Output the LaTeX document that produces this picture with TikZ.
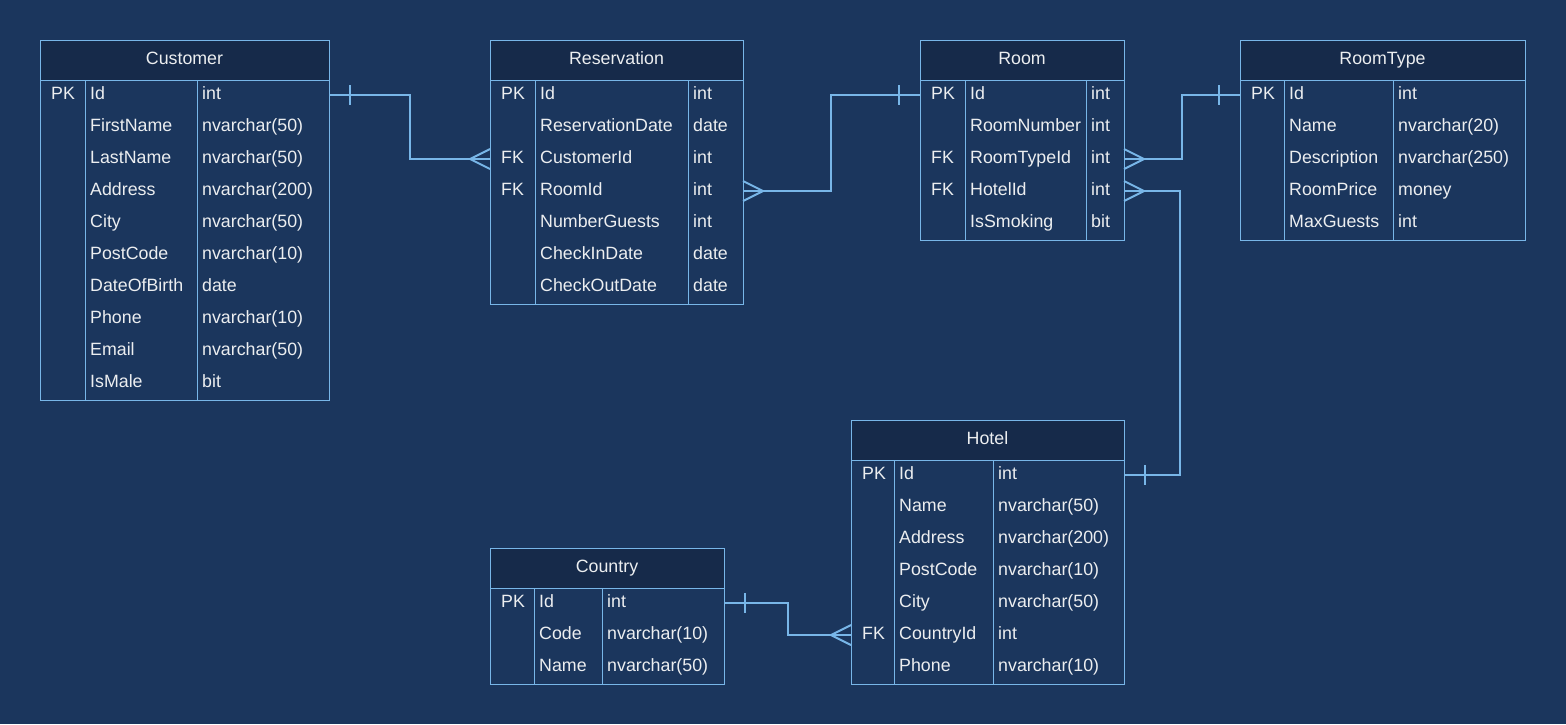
\documentclass[tikz,border=0pt]{standalone}
\usepackage{fontspec}
\setmainfont{Liberation Sans}
\usetikzlibrary{calc}

\definecolor{bgblue}{RGB}{27,54,93}
\definecolor{hdrblue}{RGB}{22,42,74}
\definecolor{edgeblue}{RGB}{120,182,232}
\definecolor{txt}{RGB}{236,238,240}

\tikzset{
  tblbody/.style={draw=edgeblue, line width=1pt, fill=bgblue, inner sep=0pt, outer sep=0pt},
  tblhead/.style={draw=edgeblue, line width=1pt, fill=hdrblue, inner sep=0pt, outer sep=0pt,
    text=txt, font=\fontsize{17.8}{20}\selectfont, text height=12.8pt, text depth=4pt},
  rowslot/.style={inner sep=0pt, outer sep=0pt, minimum height=32pt},
  celltext/.style={anchor=base west, inner sep=0pt, text=txt, font=\fontsize{17.8}{20}\selectfont},
  divider/.style={draw=edgeblue, line width=1pt},
  rel/.style={draw=edgeblue, line width=2pt},
}

% #1 name, #2 left, #3 top, #4 width, #5 first divider offset,
% #6 second divider offset, #7 number of rows, #8 title, #9 rows key/field/type
\newcommand\ertable[9]{%
  \node[tblbody, anchor=north west, minimum width=#4pt, minimum height={40pt+32pt*#7}] (#1) at (#2,#3) {};
  \node[tblhead, anchor=north west, minimum width=#4pt, minimum height=40pt] (#1-head) at (#2,#3) {#8};
  \draw[divider] (#2+#5,#3+40) -- (#2+#5,#3+40+32*#7);
  \draw[divider] (#2+#6,#3+40) -- (#2+#6,#3+40+32*#7);
  \foreach \k/\f/\t [count=\i from 0] in {#9} {
    \node[rowslot, minimum width=#4pt, anchor=west] (#1-\f) at (#2,#3+55+32*\i) {};
    \node[celltext] (#1-\f-key)  at (#2+11,#3+59.3+32*\i) {\k};
    \node[celltext] (#1-\f-name) at (#2+#5+5,#3+59.3+32*\i) {\f};
    \node[celltext] (#1-\f-type) at (#2+#6+5,#3+59.3+32*\i) {\t};
  }%
}

% crow's foot (many) at a table edge, apex #2 points away from it
\newcommand\manyend[2]{%
  \draw[rel] ([xshift=#2]#1) -- ([yshift=10]#1) ([xshift=#2]#1) -- ([yshift=-10]#1);}
% single bar (one) at distance #2 from the edge
\newcommand\oneend[2]{%
  \draw[rel] ([xshift=#2,yshift=10]#1) -- ([xshift=#2,yshift=-10]#1);}

\begin{document}
\begin{tikzpicture}[x=1pt,y=-1pt]
\fill[bgblue] (0,0) rectangle (1566,724);
\useasboundingbox (0,0) rectangle (1566,724);

\ertable{cust}{40}{40}{289}{45}{157}{10}{Customer}{PK/Id/int, /FirstName/nvarchar(50), /LastName/nvarchar(50), /Address/nvarchar(200), /City/nvarchar(50), /PostCode/nvarchar(10), /DateOfBirth/date, /Phone/nvarchar(10), /Email/nvarchar(50), /IsMale/bit}

\ertable{res}{490}{40}{253}{45}{198}{7}{Reservation}{PK/Id/int, /ReservationDate/date, FK/CustomerId/int, FK/RoomId/int, /NumberGuests/int, /CheckInDate/date, /CheckOutDate/date}

\ertable{room}{920}{40}{204}{45}{166}{5}{Room}{PK/Id/int, /RoomNumber/int, FK/RoomTypeId/int, FK/HotelId/int, /IsSmoking/bit}

\ertable{rt}{1240}{40}{285}{44}{153}{5}{RoomType}{PK/Id/int, /Name/nvarchar(20), /Description/nvarchar(250), /RoomPrice/money, /MaxGuests/int}

\ertable{hotel}{851}{420}{273}{43}{142}{7}{Hotel}{PK/Id/int, /Name/nvarchar(50), /Address/nvarchar(200), /PostCode/nvarchar(10), /City/nvarchar(50), FK/CountryId/int, /Phone/nvarchar(10)}

\ertable{country}{490}{548}{234}{44}{112}{3}{Country}{PK/Id/int, /Code/nvarchar(10), /Name/nvarchar(50)}

% relationships
\draw[rel] (cust-Id.east) -- ++(81,0) |- (res-CustomerId.west);
\oneend{cust-Id.east}{21}
\manyend{res-CustomerId.west}{-20}

\draw[rel] (res-RoomId.east) -- ++(88,0) |- (room-Id.west);
\manyend{res-RoomId.east}{20}
\oneend{room-Id.west}{-21}

\draw[rel] (room-RoomTypeId.east) -- ++(58,0) |- (rt-Id.west);
\manyend{room-RoomTypeId.east}{20}
\oneend{rt-Id.west}{-21}

\draw[rel] (room-HotelId.east) -- ++(56,0) |- (hotel-Id.east);
\manyend{room-HotelId.east}{20}
\oneend{hotel-Id.east}{21}

\draw[rel] (country-Id.east) -- ++(64,0) |- (hotel-CountryId.west);
\oneend{country-Id.east}{21}
\manyend{hotel-CountryId.west}{-20}
\end{tikzpicture}
\end{document}
